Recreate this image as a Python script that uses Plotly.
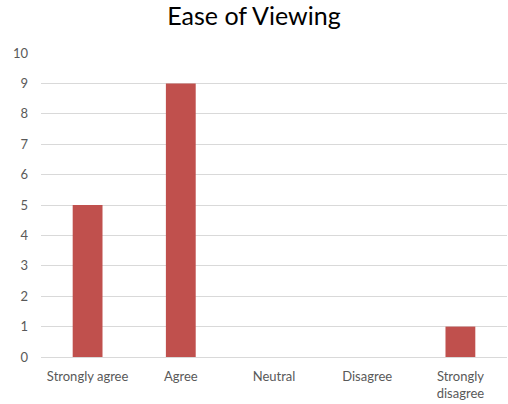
import plotly.graph_objects as go

categories = ["Strongly agree", "Agree", "Neutral", "Disagree", "Strongly<br>disagree"]
values = [5, 9, 0, 0, 1]
y_ticks = list(range(0, 11))

fig = go.Figure(go.Bar(
    x=categories, y=values,
    marker=dict(color="#C0504D", line=dict(width=0)),
    width=0.32,
))

fig.update_layout(
    width=508, height=404,
    margin=dict(l=41, r=1, t=53, b=47, autoexpand=False),
    paper_bgcolor="white", plot_bgcolor="white",
    font=dict(family="Lato, Open Sans, sans-serif", size=13, color="#595959"),
    title=dict(text="Ease of Viewing", x=0.5, xanchor="center", y=0.96, yanchor="middle",
               font=dict(size=25, color="#000000", family="Lato, Open Sans, sans-serif")),
    showlegend=False,
)
fig.update_yaxes(range=[0, 10], tickvals=y_ticks, showgrid=True, gridcolor="#D9D9D9",
                 gridwidth=1, zeroline=False, showline=False, ticks="", ticklabelstandoff=12,
                 automargin=False)
fig.update_xaxes(showline=True, linecolor="#D9D9D9", linewidth=1, ticks="", showgrid=False,
                 ticklabelstandoff=7, automargin=False)

fig.write_html("out.html", config={"displayModeBar": False},
               post_script="document.body.style.margin='0';document.body.style.overflow='hidden';")
